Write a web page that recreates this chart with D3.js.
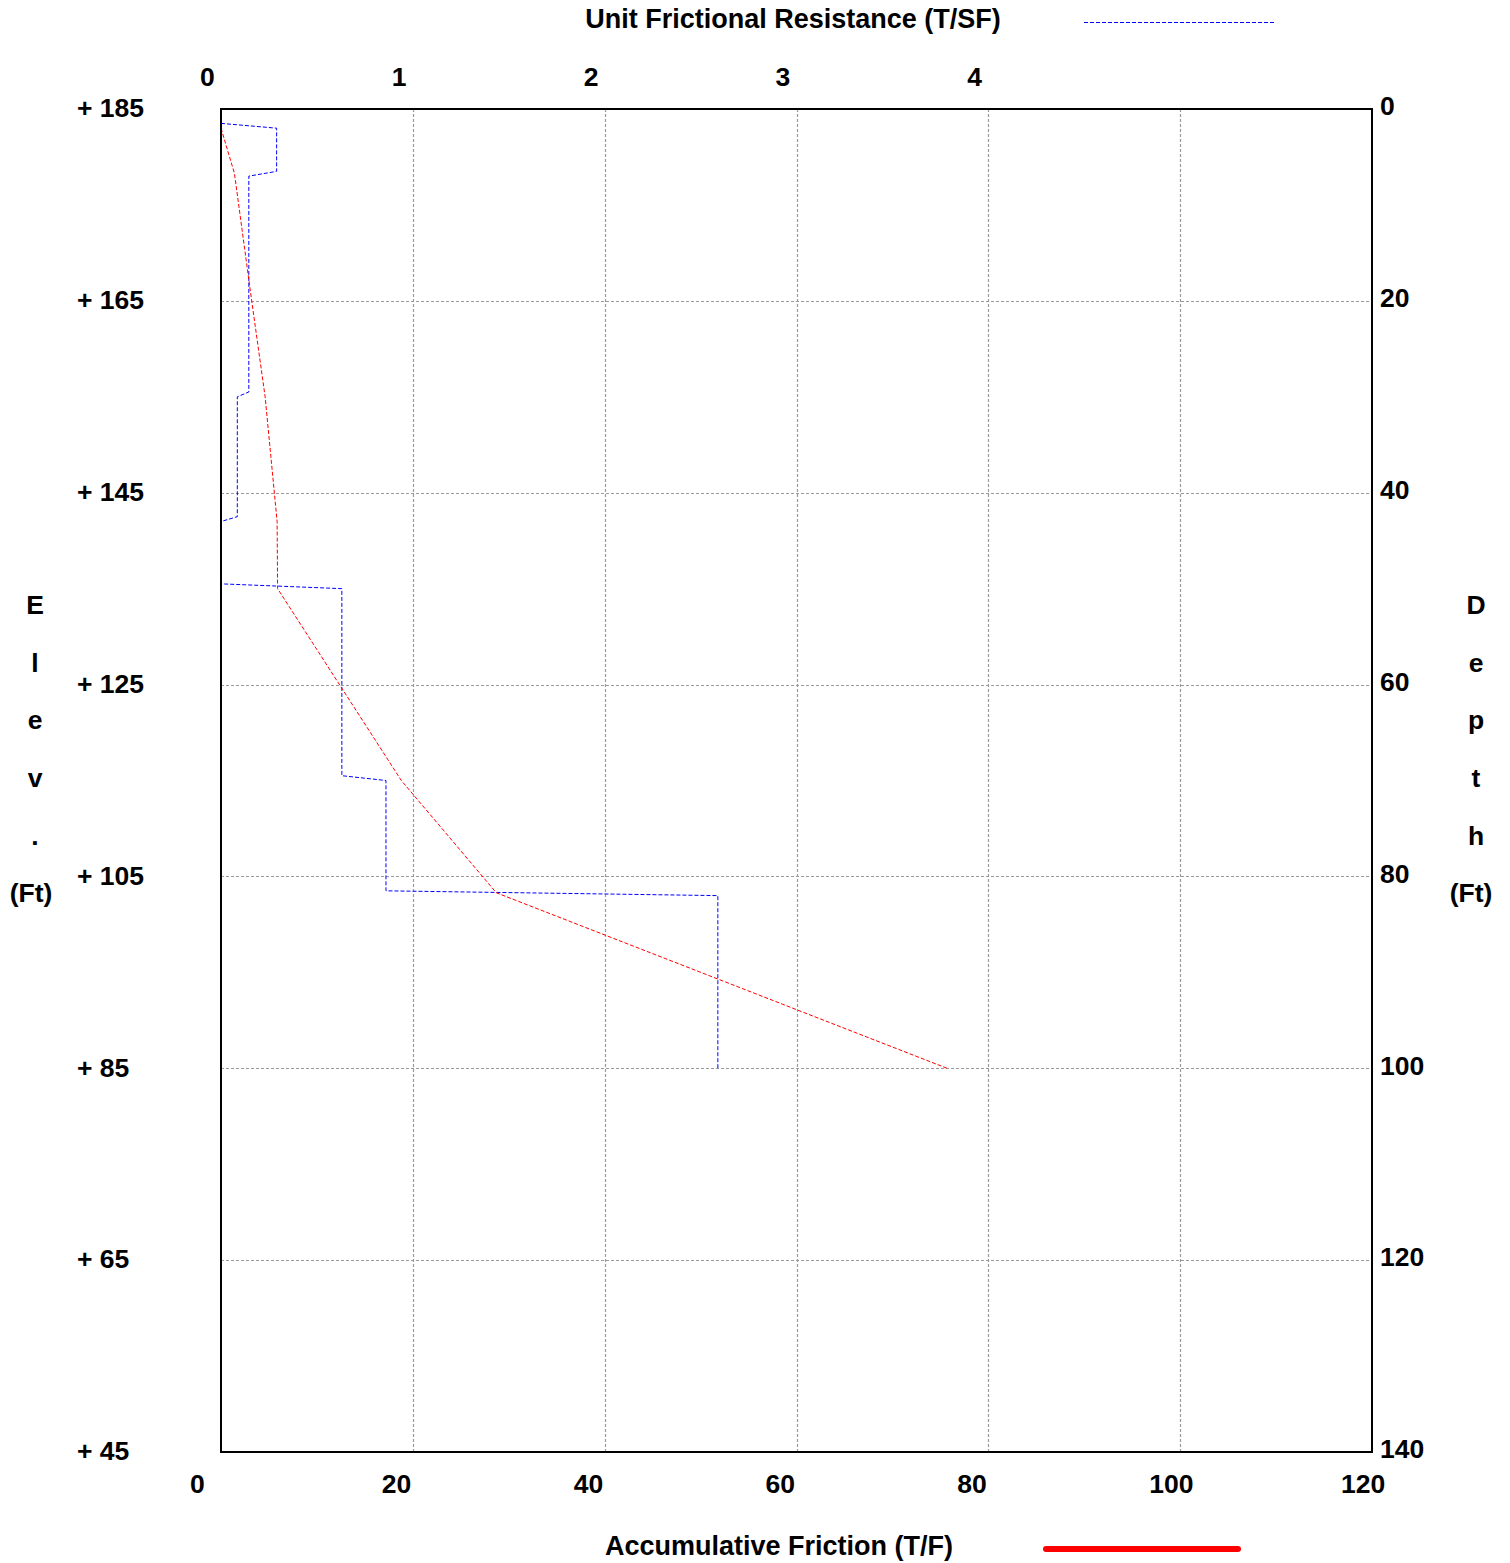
<!DOCTYPE html>
<html>
<head>
<meta charset="utf-8">
<script src="https://cdn.jsdelivr.net/npm/d3@7"></script>
<style>
  html, body { margin: 0; padding: 0; background: #fff; }
  svg text { font-family: "Liberation Sans", Arial, sans-serif; font-weight: bold; fill: #000; }
</style>
</head>
<body>
<svg id="chart" width="1510" height="1563"></svg>
<script>
// Unit frictional resistance profile (T/SF) against depth (ft)
const unitDepth = [1.5, 2, 6.5, 7, 29.5, 30, 42.5, 43, 49.5, 50, 69.5, 70, 81.5, 82, 100];
const unitValue = [0, 0.29, 0.29, 0.145, 0.145, 0.085, 0.085, 0, 0, 0.63, 0.63, 0.86, 0.86, 2.59, 2.59];

// Accumulated friction (T/F) against depth (ft)
const accDepth = [2, 6.7, 20, 30, 43, 50, 70, 81.7, 100];
const accValue = [0, 1.4, 3.2, 4.6, 5.85, 5.9, 18.8, 28.7, 75.7];

// Axis ticks and labels
const depthTicks = [0, 20, 40, 60, 80, 100, 120, 140];
const elevLabels = ["+ 185", "+ 165", "+ 145", "+ 125", "+ 105", "+ 85", "+ 65", "+ 45"];
const unitTicks = [0, 1, 2, 3, 4];
const accTicks = [0, 20, 40, 60, 80, 100, 120];
const elevTitle = ["E", "l", "e", "v", ".", "(Ft)"];
const depthTitle = ["D", "e", "p", "t", "h", "(Ft)"];

const svg = d3.select("#chart");
const L = 221, R = 1372, T = 109, B = 1452;
const FS = 26.5;

const y = d3.scaleLinear().domain([0, 140]).range([T, B]);
const xUnit = d3.scaleLinear().domain([0, 6]).range([L, R]);
const xAcc = d3.scaleLinear().domain([0, 120]).range([L, R]);

// grid
const grid = svg.append("g").attr("stroke", "#9a9a9a").attr("stroke-width", 1.2)
  .attr("stroke-dasharray", "3,2");
grid.selectAll("line.v").data(accTicks.slice(1, -1)).join("line")
  .attr("x1", d => Math.round(xAcc(d)) + 0.5).attr("x2", d => Math.round(xAcc(d)) + 0.5)
  .attr("y1", T).attr("y2", B);
grid.selectAll("line.h").data(depthTicks.slice(1, -1)).join("line")
  .attr("x1", L).attr("x2", R)
  .attr("y1", d => Math.round(y(d)) + 0.5).attr("y2", d => Math.round(y(d)) + 0.5);

// data lines
const unitLine = d3.line().x((d, i) => xUnit(unitValue[i])).y(d => y(d));
svg.append("path").datum(unitDepth).attr("d", unitLine)
  .attr("fill", "none").attr("stroke", "#0000ff").attr("stroke-width", 1)
  .attr("stroke-dasharray", "4,2");

const accLine = d3.line().x((d, i) => xAcc(accValue[i])).y(d => y(d));
svg.append("path").datum(accDepth).attr("d", accLine)
  .attr("fill", "none").attr("stroke", "#ff0000").attr("stroke-width", 1)
  .attr("stroke-dasharray", "4,2");

// frame
svg.append("rect").attr("x", L).attr("y", T).attr("width", R - L).attr("height", B - T)
  .attr("fill", "none").attr("stroke", "#000").attr("stroke-width", 2);

// left: elevation labels
svg.selectAll("text.elev").data(depthTicks).join("text")
  .attr("x", 77).attr("y", d => y(d) - 1).attr("dy", "0.35em")
  .attr("font-size", FS).text((d, i) => elevLabels[i]);

// right: depth labels
svg.selectAll("text.depth").data(depthTicks).join("text")
  .attr("x", 1380).attr("y", d => y(d) - 3).attr("dy", "0.35em")
  .attr("font-size", FS).text(d => d);

// top: unit friction labels
svg.selectAll("text.unit").data(unitTicks).join("text")
  .attr("x", d => xUnit(d) - 21).attr("y", 77).attr("dy", "0.35em")
  .attr("font-size", FS).text(d => d);

// bottom: accumulated friction labels
svg.selectAll("text.acc").data(accTicks).join("text")
  .attr("x", d => xAcc(d) - 31).attr("y", 1484).attr("dy", "0.35em")
  .attr("font-size", FS).text(d => d);

// vertical axis titles, one glyph per row
svg.selectAll("text.et").data(elevTitle).join("text")
  .attr("x", (d, i) => i === 5 ? 31 : 35).attr("y", (d, i) => 605 + i * 57.6).attr("dy", "0.35em")
  .attr("text-anchor", "middle").attr("font-size", FS).text(d => d);
svg.selectAll("text.dt").data(depthTitle).join("text")
  .attr("x", (d, i) => i === 5 ? 1471 : 1476).attr("y", (d, i) => 605 + i * 57.6).attr("dy", "0.35em")
  .attr("text-anchor", "middle").attr("font-size", FS).text(d => d);

// titles with legend keys
svg.append("text").attr("x", 793).attr("y", 19).attr("dy", "0.35em")
  .attr("text-anchor", "middle").attr("font-size", 27).text("Unit Frictional Resistance (T/SF)");
svg.append("line").attr("x1", 1084).attr("x2", 1275).attr("y1", 22.5).attr("y2", 22.5)
  .attr("stroke", "#0000ff").attr("stroke-width", 1).attr("stroke-dasharray", "4,2");

svg.append("text").attr("x", 779).attr("y", 1546).attr("dy", "0.35em")
  .attr("text-anchor", "middle").attr("font-size", 27).text("Accumulative Friction (T/F)");
svg.append("line").attr("x1", 1046).attr("x2", 1238).attr("y1", 1549).attr("y2", 1549)
  .attr("stroke", "#ff0000").attr("stroke-width", 6).attr("stroke-linecap", "round");
</script>
</body>
</html>
